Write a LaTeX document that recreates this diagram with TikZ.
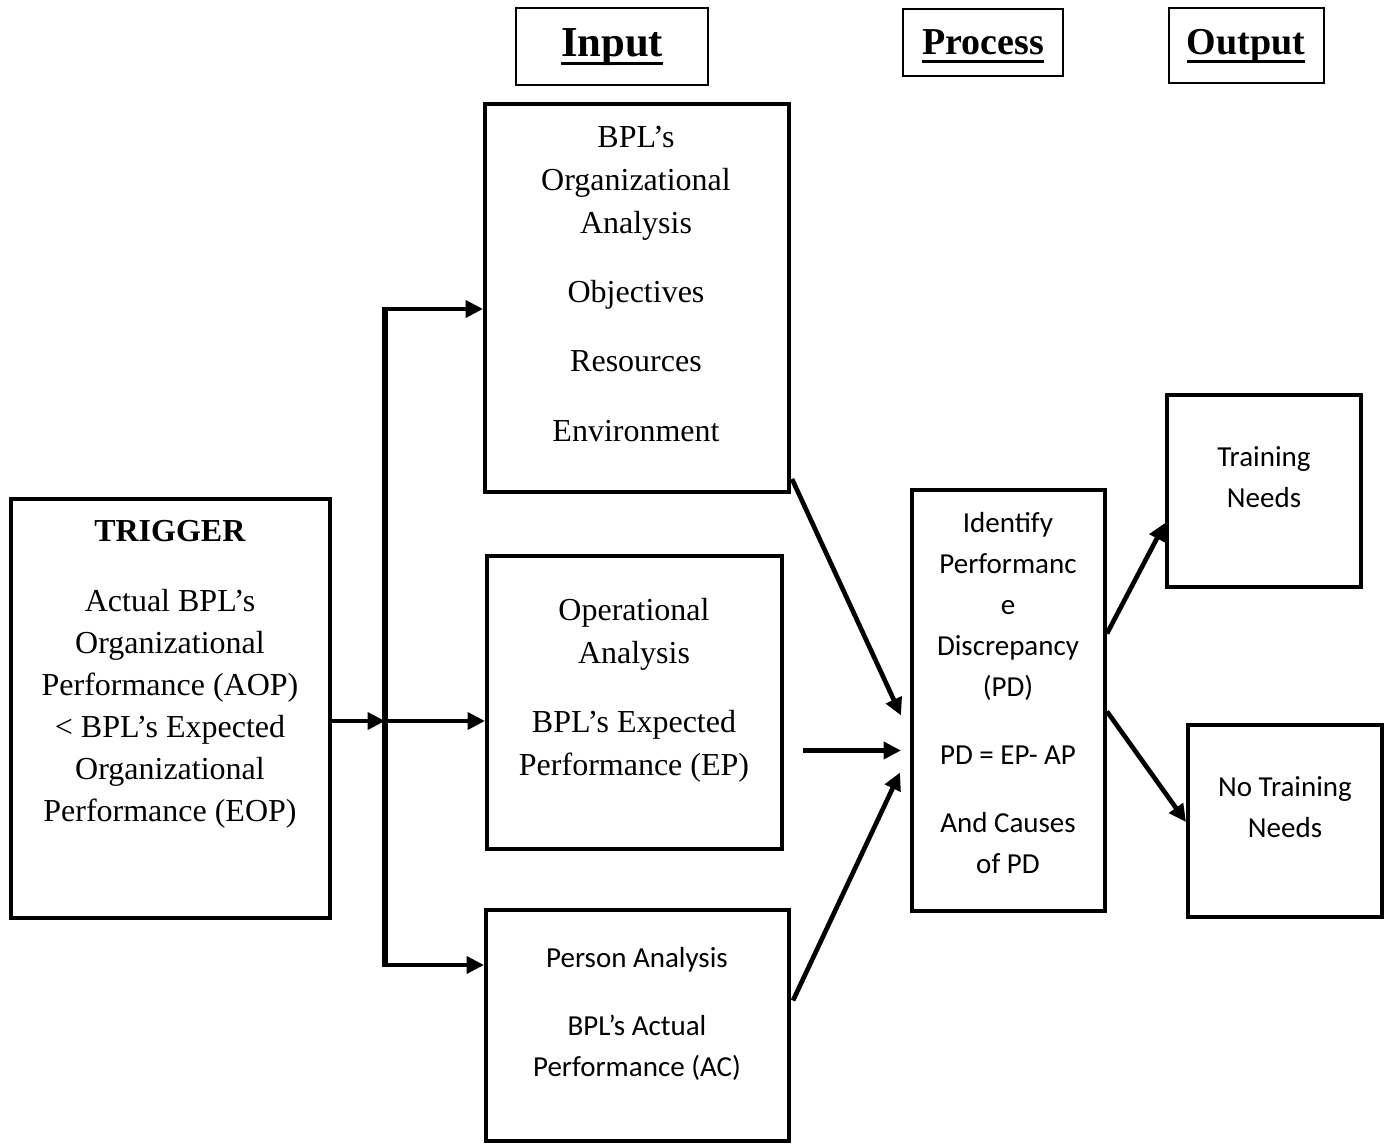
\documentclass[tikz,border=0pt]{standalone}
\usepackage{fontspec}
\setmainfont{Liberation Serif}
\newfontfamily\calibri{Carlito}
\usetikzlibrary{arrows.meta,calc,fit}

% bold heading with a heavy underline
\newcommand\headword[1]{\setbox0=\hbox{#1}\leavevmode\rlap{\rule[-6pt]{\wd0}{2.4pt}}\box0}

\begin{document}
\begin{tikzpicture}[x=0.75pt,y=-0.75pt,
  box/.style={draw, line width=3pt, inner sep=0pt},
  hdrbox/.style={draw, line width=0.9pt, inner sep=0pt},
  hdrtext/.style={font=\fontsize{28.5}{34}\selectfont\bfseries, inner sep=0pt, anchor=base},
  serif/.style={align=center, inner sep=0pt, font=\fontsize{24}{32}\selectfont},
  sans/.style={align=center, inner sep=0pt, font=\calibri\fontsize{21.75}{30.75}\selectfont},
  arr/.style={line width=3.5pt, -{Triangle[length=13pt,width=12.5pt]}},
  busline/.style={line width=3.8pt}]
\useasboundingbox (0,0) rectangle (1390,1144);
\fill[white] (0,0) rectangle (1390,1144);

% column headings
\node[hdrbox, fit={(516,8) (708,85)}] (hin) {};
\node[hdrtext, font=\fontsize{32}{36}\selectfont\bfseries] (hintxt) at (612,57) {\headword{Input}};
\node[hdrbox, fit={(903,9) (1063,76)}] (hproc) {};
\node[hdrtext] (hproctxt) at (983,55) {\headword{Process}};
\node[hdrbox, fit={(1169,8) (1324,83)}] (hout) {};
\node[hdrtext] (houttxt) at (1246,55) {\headword{Output}};

% trigger
\node[box, fit={(11,499) (330,918)}] (trig) {};
\node[serif, font=\fontsize{24}{31.5}\selectfont] (trigtxt) at (170,674)
  {\textbf{TRIGGER}\\[21pt] Actual BPL’s\\ Organizational\\ Performance (AOP)\\ < BPL’s Expected\\ Organizational\\ Performance (EOP)};

% inputs
\node[box, fit={(485,104) (789,492)}] (org) {};
\node[serif] (orgtxt) at (636,284)
  {BPL’s\\ Organizational\\ Analysis\\[20pt] Objectives\\[20pt] Resources\\[20pt] Environment};

\node[box, fit={(487,556) (782,849)}] (op) {};
\node[serif] (optxt) at (634,690)
  {Operational\\ Analysis\\[20pt] BPL’s Expected\\ Performance (EP)};

\node[box, fit={(486,910) (789,1141)}] (person) {};
\node[sans] (persontxt) at (637,1014)
  {Person Analysis\\[20pt] BPL’s Actual\\ Performance (AC)};

% process
\node[box, fit={(912,490) (1105,911)}] (proc) {};
\node[sans] (proctxt) at (1008,693)
  {Identify\\ Performanc\\ e\\ Discrepancy\\ (PD)\\[20.25pt] PD = EP- AP\\[20.25pt] And Causes\\ of PD};

% outputs
\node[box, fit={(1167,395) (1361,587)}] (train) {};
\node[sans] (traintxt) at (1264,477) {Training\\ Needs};
\node[box, fit={(1188,725) (1382,917)}] (notrain) {};
\node[sans] (notraintxt) at (1285,807) {No Training\\ Needs};

% distribution bus
\coordinate (bus) at (385,721);
\coordinate (busT) at (385,309);
\coordinate (busB) at (385,965);
\draw[busline] ($(busT)+(0,-2)$) -- ($(busB)+(0,2)$);
\draw[arr] (trig.east |- bus) -- (bus);
\draw[arr] (busT) -- (org.west |- busT);
\draw[arr] (bus) -- (op.west |- bus);
\draw[arr] (busB) -- (person.west |- busB);

% inputs into process
\draw[arr] ($(org.south east)+(1,-15)$) -- ($(proc.west)+(-9,15)$);
\draw[arr] ($(op.east)+(19,48)$) -- ($(proc.west)+(-9,50)$);
\draw[arr] ($(person.east)+(2,-25)$) -- ($(proc.west)+(-10,72)$);

% process into outputs
\draw[arr] ($(proc.east)+(0,-67)$) -- ($(train.west)+(0,32)$);
\draw[arr] ($(proc.east)+(0,11)$) -- ($(notrain.west)+(0,1)$);
\end{tikzpicture}
\end{document}
